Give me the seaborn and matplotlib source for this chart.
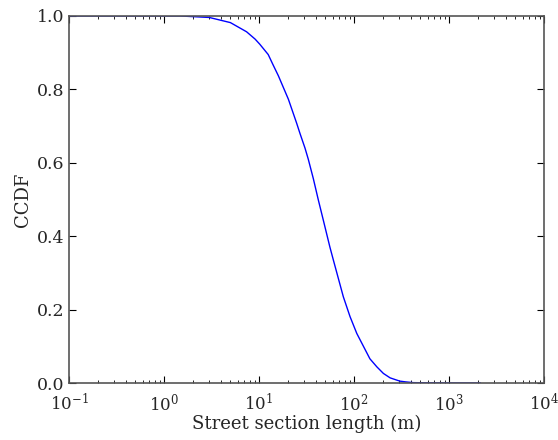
import matplotlib
matplotlib.use("Agg")
import matplotlib.pyplot as plt
import seaborn as sns
import pandas as pd

# Street section length (m) and CCDF values
length_m = [0.1, 1.0, 1.5, 3.0, 5.0, 7.4, 9.1, 10.2, 12.5, 14.0, 16.0, 20.4, 24.9, 27.0,
            30.5, 33.0, 37.3, 42.1, 47.5, 55.8, 60.5, 77.2, 90.8, 107.0, 147.0, 174.0,
            204.0, 240.0, 281.0, 305.0, 350.0, 421.0, 600.0, 1000.0, 2140.0]
ccdf = [1.0, 1.0, 1.0, 0.996, 0.982, 0.957, 0.937, 0.923, 0.895, 0.868, 0.837, 0.773,
        0.708, 0.680, 0.640, 0.610, 0.557, 0.499, 0.444, 0.370, 0.336, 0.235, 0.181,
        0.135, 0.066, 0.044, 0.026, 0.014, 0.008, 0.005, 0.003, 0.001, 0.0005, 0.0, 0.0]

df = pd.DataFrame({"length": length_m, "ccdf": ccdf})

sns.set_style("ticks")
plt.rcParams['font.family'] = ['DejaVu Serif']
plt.rcParams['mathtext.fontset'] = 'dejavuserif'

fig = plt.figure(figsize=(5.58, 4.4), dpi=100)
ax = fig.add_axes([69/558, 1 - 383/440, (544-69)/558, (383-16)/440])

sns.lineplot(data=df, x="length", y="ccdf", ax=ax, color="#0000ff", linewidth=1.0)
ax.set_xscale("log")
ax.set_xlim(0.1, 1e4)
ax.set_ylim(0, 1.0)
ax.set_yticks([0.0, 0.2, 0.4, 0.6, 0.8, 1.0])
ax.set_yticklabels(["0.0", "0.2", "0.4", "0.6", "0.8", "1.0"])
ax.set_xlabel("Street section length (m)", fontsize=13, labelpad=0)
ax.set_ylabel("CCDF", fontsize=13, labelpad=4)
ax.tick_params(which="both", direction="in", top=True, right=True, color="black")
ax.tick_params(axis="x", which="major", pad=7, labelsize=12)
ax.tick_params(axis="y", which="major", pad=3, labelsize=12.5)
ax.tick_params(which="major", length=5, width=0.8)
ax.tick_params(which="minor", length=2.5, width=0.6)
for s in ax.spines.values():
    s.set_color("#555555")
    s.set_linewidth(1.2)

fig.savefig("out.png", dpi=100)
